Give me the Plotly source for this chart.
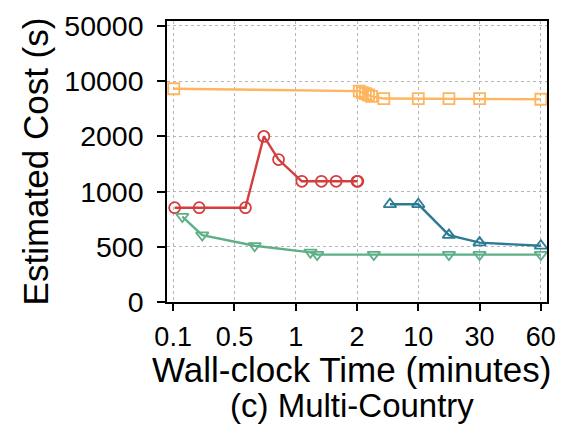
import numpy as np
import plotly.graph_objects as go

# Tick values (custom piecewise scales)
x_ticks = [0.1, 0.5, 1, 2, 10, 30, 60]
y_ticks = [0, 500, 1000, 2000, 10000, 50000]

# Series data (minutes, seconds)
red_x = [0.11, 0.27, 0.59, 0.74, 0.86, 1.1, 1.42, 1.66, 2.0, 2.1]
red_y = [854, 854, 854, 2000, 1580, 1186, 1186, 1186, 1186, 1186]

orange_x = [0.104, 2.3, 2.7, 3.1, 3.5, 3.9, 5.5, 10, 20, 30, 60]
orange_y = [8900, 8560, 8350, 8190, 8000, 7800, 7480, 7480, 7480, 7480, 7380]

teal_x = [6.3, 10, 20, 30, 60]
teal_y = [885, 885, 606, 538, 509]

green_x = [0.16, 0.29, 0.665, 1.24, 1.35, 4.2, 20, 30, 60]
green_y = [774, 606, 509, 450, 429, 429, 429, 429, 429]

x_title = "Wall-clock Time (minutes)"
subtitle = "(c) Multi-Country"
y_title = "Estimated Cost (s)"


def fx(v):
    return np.interp(v, x_ticks, np.arange(len(x_ticks)))


def fy(v):
    return np.interp(v, y_ticks, np.arange(len(y_ticks)))


fig = go.Figure()

series = [
    (orange_x, orange_y, "#FDB55F", "square-open"),
    (red_x, red_y, "#D43D3D", "circle-open"),
    (teal_x, teal_y, "#2B7B93", "triangle-up-open"),
    (green_x, green_y, "#5DAF86", "triangle-down-open"),
]
for xs, ys, col, sym in series:
    fig.add_trace(go.Scatter(
        x=fx(xs), y=fy(ys), mode="lines+markers",
        line=dict(color=col, width=2.4),
        marker=dict(symbol=sym, size=11, color=col, line=dict(width=1.8, color=col)),
        showlegend=False, cliponaxis=False,
    ))

fam = "Liberation Sans, Arial, sans-serif"

fig.update_layout(
    width=566, height=429,
    margin=dict(l=167, r=10, t=15, b=127),
    paper_bgcolor="white", plot_bgcolor="white",
    font=dict(family=fam, color="black"),
    xaxis=dict(
        range=[-0.1, 6.1],
        tickvals=list(fx(x_ticks)), ticktext=[str(t) for t in x_ticks],
        showgrid=True, gridcolor="#b5b5b5", griddash="dot", gridwidth=1,
        showline=True, linecolor="black", linewidth=1.5, mirror=True,
        ticks="outside", ticklen=7, tickcolor="black", tickwidth=1.5,
        ticklabelstandoff=3,
        tickfont=dict(size=27, family=fam, color="black"),
        zeroline=False,
    ),
    yaxis=dict(
        range=[0, 5.09],
        tickvals=list(fy(y_ticks)), ticktext=[str(t) for t in y_ticks],
        showgrid=True, gridcolor="#b5b5b5", griddash="dot", gridwidth=1,
        showline=True, linecolor="black", linewidth=1.5, mirror=True,
        ticks="outside", ticklen=8, tickcolor="black", tickwidth=1.5,
        ticklabelstandoff=8,
        tickfont=dict(size=28.5, family=fam, color="black"),
        title=dict(text=y_title, font=dict(size=35, family=fam, color="black"), standoff=5),
        zeroline=False,
    ),
    annotations=[
        dict(text=x_title, xref="paper", yref="paper", x=0.485, y=-0.240,
             xanchor="center", yanchor="middle", showarrow=False,
             font=dict(size=35, family=fam, color="black")),
        dict(text=subtitle, xref="paper", yref="paper", x=0.487, y=-0.368,
             xanchor="center", yanchor="middle", showarrow=False,
             font=dict(size=33, family=fam, color="black")),
    ],
)

fig.write_html("out.html")
